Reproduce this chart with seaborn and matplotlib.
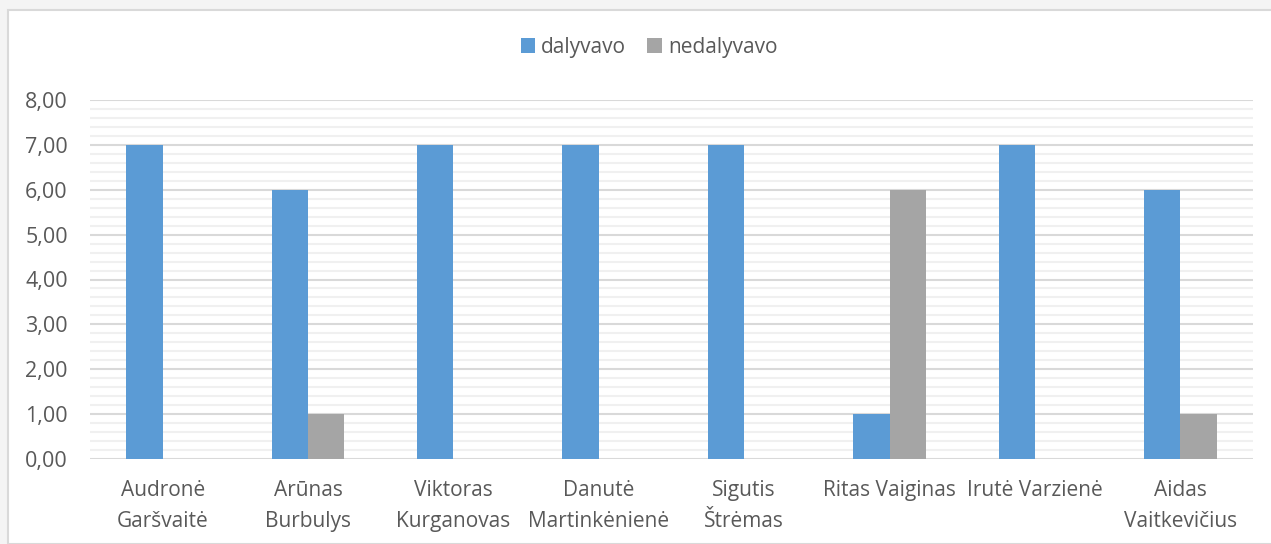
import pandas as pd
import numpy as np
import seaborn as sns
import matplotlib.pyplot as plt
from matplotlib.patches import Rectangle
from matplotlib.ticker import MultipleLocator, FuncFormatter

# Data
names = ["Audronė\nGaršvaitė", "Arūnas\nBurbulys", "Viktoras\nKurganovas",
         "Danutė\nMartinkėnienė", "Sigutis\nŠtrėmas", "Ritas Vaiginas",
         "Irutė Varzienė", "Aidas\nVaitkevičius"]
dalyvavo = [7, 6, 7, 7, 7, 1, 7, 6]
nedalyvavo = [0, 1, 0, 0, 0, 6, 0, 1]
series = ["dalyvavo", "nedalyvavo"]
colors = ["#5B9BD5", "#A5A5A5"]

df = pd.DataFrame({
    "name": names * 2,
    "value": dalyvavo + nedalyvavo,
    "series": [series[0]] * len(names) + [series[1]] * len(names),
})

sns.set_style("white")
plt.rcParams['font.family'] = ['Open Sans', 'DejaVu Sans']
text_col = "#595959"

fig = plt.figure(figsize=(12.71, 5.44), dpi=100)
fig.patch.set_facecolor("#F4F4F4")
# white chart area with light border (behind the axes)
fig.patches.append(Rectangle((8 / 1271, 0), 1.0, 1 - 10 / 544, transform=fig.transFigure,
                             facecolor="white", edgecolor="#D9D9D9", linewidth=1.5, zorder=-1))

ax = fig.add_axes([90 / 1271, 1 - 459 / 544, 1163 / 1271, 359 / 544])
ax.set_facecolor("white")
sns.barplot(data=df, x="name", y="value", hue="series", palette=colors,
            width=0.5, saturation=1, ax=ax, legend=True, linewidth=0)

ax.set_ylim(0, 8)
ax.set_xlim(-0.5, len(names) - 0.5)
ax.yaxis.set_major_locator(MultipleLocator(1))
ax.yaxis.set_minor_locator(MultipleLocator(0.2))
ax.yaxis.set_major_formatter(FuncFormatter(lambda v, p: f"{v:.2f}".replace(".", ",")))
ax.grid(which="major", axis="y", color="#D9D9D9", linewidth=1.5, zorder=0)
ax.grid(which="minor", axis="y", color="#F0F0F0", linewidth=1.5, zorder=0)
ax.set_axisbelow(True)
for s in ax.spines.values():
    s.set_visible(False)
ax.tick_params(axis="both", which="both", length=0, colors=text_col)
ax.tick_params(axis="y", pad=16, labelsize=15.5)
ax.tick_params(axis="x", pad=15, labelsize=15)
for t in ax.get_xticklabels():
    t.set_linespacing(1.65)
ax.set_xlabel("")
ax.set_ylabel("")

handles, labels = ax.get_legend_handles_labels()
ax.legend(handles, labels, loc="center", bbox_to_anchor=(0.5 + (649 - 671.5) / 1163, (459 - 47) / 359),
          ncol=2, frameon=False, fontsize=15, handlelength=0.7, handleheight=0.7,
          handletextpad=0.3, columnspacing=1.0, labelcolor=text_col)

fig.savefig("out.png", dpi=100, facecolor=fig.get_facecolor())
